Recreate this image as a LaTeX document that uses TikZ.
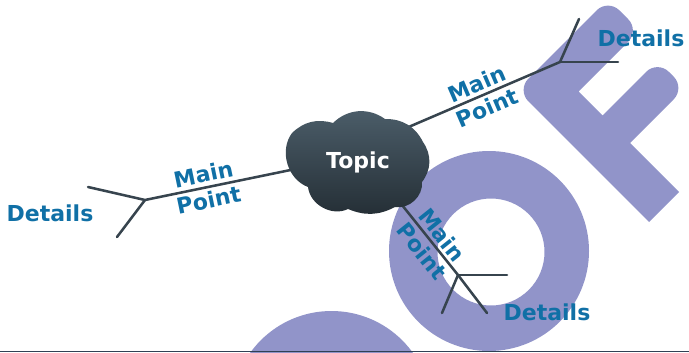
\documentclass[tikz,border=0pt]{standalone}
\usepackage{fontspec}
\setmainfont{DejaVu Sans}

\definecolor{mapblue}{RGB}{16,112,166}
\definecolor{mapline}{RGB}{55,68,78}
\definecolor{cloudtop}{RGB}{76,94,106}
\definecolor{cloudbot}{RGB}{36,46,53}
\definecolor{stamp}{RGB}{145,148,201}
\definecolor{rulecol}{RGB}{48,64,84}

\tikzset{
    branch/.style={mapline, line width=1.9pt, line cap=round},
    pointtext/.style={text=mapblue, font=\bfseries\fontsize{16.5}{19.5}\selectfont,
        align=center, inner sep=0pt},
    detailtext/.style={text=mapblue, font=\bfseries\fontsize{16.5}{19.5}\selectfont,
        inner sep=0pt},
}

\begin{document}
\begin{tikzpicture}[x=0.75pt, y=-0.75pt]
            \useasboundingbox (0,0) rectangle (689,353);
            \clip (0,0) rectangle (689,353);

            % stamp letters in the background
            \fill[stamp, even odd rule] (489,251) circle[radius=100] (491,252) circle[radius=53.5];
            \fill[stamp, even odd rule] (331.5,411) circle[radius=100] (334,412) circle[radius=53.5];
            \fill[stamp] (679,192) -- (630,143) [rounded corners=12] -- (685,88) -- (657.5,60.5)
                [sharp corners] -- (602.5,115.5) -- (578.5,91.5)
                [rounded corners=12] -- (639.5,30.5) -- (608,-1) -- (517,90)
                [sharp corners] -- (649,222) -- cycle;

            \coordinate (lroot) at (310,166);
            \coordinate (lfork) at (145,200);
            \coordinate (lup) at (88,187);
            \coordinate (ldown) at (117,237);

            \coordinate (rroot) at (390,135);
            \coordinate (rfork) at (560,62);
            \coordinate (rup) at (579,19);
            \coordinate (rright) at (618,62);

            \coordinate (broot) at (390,190);
            \coordinate (bfork) at (458,275);
            \coordinate (bend) at (487,313);
            \coordinate (bright) at (507,275);
            \coordinate (bleft) at (442,313);

            \draw[branch] (lroot) -- (lfork) -- (lup);
            \draw[branch] (lfork) -- (ldown);
            \draw[branch] (rroot) -- (rfork) -- (rup);
            \draw[branch] (rfork) -- (rright);
            \draw[branch] (broot) -- (bfork) -- (bend);
            \draw[branch] (bfork) -- (bright);
            \draw[branch] (bfork) -- (bleft);

            % the cloud, lobe by lobe
            \shade[top color=cloudtop, bottom color=cloudbot]
                (292,133) to[bend left=30] (333,123) to[bend left=40] (385,119)
                to[bend left=32] (423,142) to[bend left=36] (422,182)
                to[bend left=52] (395,207) to[bend left=25] (348,209)
                to[bend left=55] (308,187) to[bend left=53] cycle;
            \node[text=white, font=\bfseries\fontsize{16.5}{19.5}\selectfont, inner sep=0pt]
                (topic) at (358,162) {Topic};

            \node[pointtext, rotate=11.7] (lpoint) at (206,187) {Main\\Point};
            \node[pointtext, rotate=23.3] (rpoint) at (482,96) {Main\\Point};
            \node[pointtext, rotate=-51.3] (bpoint) at (432,243) {Main\\Point};

            \node[detailtext] (ldetails) at (50,213.5) {Details};
            \node[detailtext] (rdetails) at (641,38) {Details};
            \node[detailtext] (bdetails) at (547,312) {Details};

            \draw[rulecol, line width=0.9pt] (0,351.8) -- (689,351.8);
        \end{tikzpicture}
\end{document}
